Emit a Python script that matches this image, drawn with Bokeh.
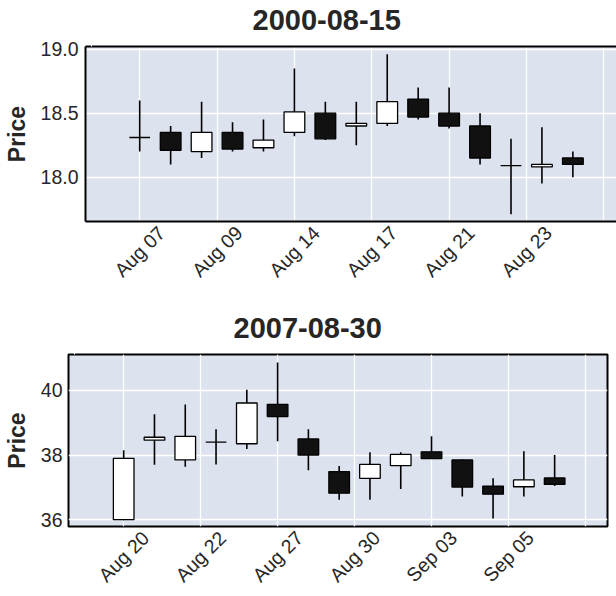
from bokeh.plotting import figure
from bokeh.models import FixedTicker, LinearAxis, Range1d, ColumnDataSource
from bokeh.embed import file_html
from bokeh.resources import INLINE

# ---------------- data: 2000-08-15 window ----------------
top_title = "2000-08-15"
top_dates = ["2000-08-07", "2000-08-08", "2000-08-09", "2000-08-10", "2000-08-11",
             "2000-08-14", "2000-08-15", "2000-08-16", "2000-08-17", "2000-08-18",
             "2000-08-21", "2000-08-22", "2000-08-23", "2000-08-24", "2000-08-25"]
top_open  = [18.31, 18.35, 18.20, 18.35, 18.23, 18.35, 18.50, 18.40, 18.42, 18.61, 18.50, 18.40, 18.09, 18.08, 18.15]
top_high  = [18.60, 18.40, 18.59, 18.43, 18.45, 18.85, 18.59, 18.59, 18.96, 18.70, 18.70, 18.50, 18.30, 18.39, 18.20]
top_low   = [18.20, 18.10, 18.15, 18.20, 18.20, 18.32, 18.29, 18.25, 18.40, 18.45, 18.38, 18.10, 17.71, 17.95, 18.00]
top_close = [18.31, 18.21, 18.35, 18.22, 18.29, 18.51, 18.30, 18.42, 18.59, 18.47, 18.40, 18.15, 18.09, 18.10, 18.10]
top_grid_ticks = [0, 2.5, 5, 7.5, 10, 12.5, 15]
top_tick_pos = [0, 2.5, 5, 7.5, 10, 12.5]
top_tick_labels = ["Aug 07", "Aug 09", "Aug 14", "Aug 17", "Aug 21", "Aug 23"]
top_yticks = [18.0, 18.5, 19.0]
top_ylabels = ["18.0", "18.5", "19.0"]

# ---------------- data: 2007-08-30 window ----------------
bot_title = "2007-08-30"
bot_dates = ["2007-08-20", "2007-08-21", "2007-08-22", "2007-08-23", "2007-08-24",
             "2007-08-27", "2007-08-28", "2007-08-29", "2007-08-30", "2007-08-31",
             "2007-09-03", "2007-09-04", "2007-09-05", "2007-09-06", "2007-09-07"]
bot_open  = [36.00, 38.46, 37.85, 38.40, 38.35, 39.57, 38.50, 37.49, 37.28, 37.67, 38.10, 37.85, 37.04, 37.02, 37.29]
bot_high  = [38.15, 39.26, 39.56, 38.80, 40.02, 40.86, 38.80, 37.66, 38.09, 38.09, 38.58, 37.87, 37.28, 38.12, 38.00]
bot_low   = [35.98, 37.70, 37.64, 37.71, 38.19, 38.43, 37.53, 36.62, 36.62, 36.95, 37.89, 36.72, 36.04, 36.72, 37.04]
bot_close = [37.90, 38.55, 38.58, 38.40, 39.61, 39.19, 38.00, 36.82, 37.71, 38.02, 37.89, 37.01, 36.79, 37.23, 37.09]
bot_grid_ticks = [0, 2.5, 5, 7.5, 10, 12.5, 15]
bot_tick_pos = [0, 2.5, 5, 7.5, 10, 12.5]
bot_tick_labels = ["Aug 20", "Aug 22", "Aug 27", "Aug 30", "Sep 03", "Sep 05"]
bot_yticks = [36, 38, 40]
bot_ylabels = ["36", "38", "40"]

FONT = "Liberation Sans"
TXT = "#262626"
BG = "#DCE3EF"


def panel(title, dates, o, h, l, c, grid_ticks, tick_pos, tick_labels, yticks, ylabels,
          xr, yr, shift, height, mb_top, mb_bottom, mb_left, mb_right, title_offset,
          ylab_standoff, full_outline):
    p = figure(width=616, height=height, x_range=Range1d(*xr), y_range=Range1d(*yr),
               output_backend="svg", toolbar_location=None, title=title,
               min_border_top=mb_top, min_border_bottom=mb_bottom,
               min_border_left=mb_left, min_border_right=mb_right)
    p.background_fill_color = BG
    p.border_fill_color = "white"
    p.title.text_font = FONT
    p.title.text_font_size = "29px"
    p.title.text_font_style = "bold"
    p.title.text_color = TXT
    p.title.align = "left"
    p.title.offset = title_offset
    p.title.vertical_align = "bottom"
    p.title.standoff = -11

    idx = list(range(len(dates)))
    src = ColumnDataSource(dict(
        x=idx, date=dates, open=o, high=h, low=l, close=c,
        top=[max(a, b) for a, b in zip(o, c)],
        bottom=[min(a, b) for a, b in zip(o, c)],
        fill=["white" if b >= a else "#111111" for a, b in zip(o, c)],
    ))
    p.segment(x0="x", y0="low", x1="x", y1="high", source=src, line_color="black", line_width=1.6)
    p.vbar(x="x", width=0.67, top="top", bottom="bottom", source=src,
           fill_color="fill", line_color="black", line_width=1.3)

    # grid
    p.xgrid.ticker = FixedTicker(ticks=grid_ticks)
    p.ygrid.ticker = FixedTicker(ticks=yticks)
    for g in (p.xgrid, p.ygrid):
        g.grid_line_color = "white"
        g.grid_line_width = 1.3

    # x axis: rotated labels centred under their tick (matplotlib style)
    xa = p.xaxis[0]
    shifted = [t + shift for t in tick_pos]
    xa.ticker = FixedTicker(ticks=shifted)
    xa.major_label_overrides = {s: lab for s, lab in zip(shifted, tick_labels)}
    xa.major_label_orientation = 0.785398
    xa.major_label_text_font = FONT
    xa.major_label_text_font_size = "19.5px"
    xa.major_label_text_color = TXT
    xa.major_label_standoff = 8
    xa.major_tick_line_color = None
    xa.minor_tick_line_color = None
    xa.major_tick_out = 0
    xa.major_tick_in = 0

    ya = p.yaxis[0]
    ya.ticker = FixedTicker(ticks=yticks)
    ya.major_label_overrides = {v: lab for v, lab in zip(yticks, ylabels)}
    ya.major_label_text_font = FONT
    ya.major_label_text_font_size = "19.5px"
    ya.major_label_text_color = TXT
    ya.major_label_standoff = ylab_standoff
    ya.major_tick_line_color = None
    ya.minor_tick_line_color = None
    ya.major_tick_out = 0
    ya.major_tick_in = 0
    ya.axis_label = "Price"
    ya.axis_label_text_font = FONT
    ya.axis_label_text_font_size = "23px"
    ya.axis_label_text_font_style = "bold"
    ya.axis_label_text_color = TXT
    ya.axis_label_standoff = 8

    # top axis: draws the top border (where needed) and keeps a gap under the title
    # (its single tick is white on the white border, i.e. invisible)
    gap_tick = xr[0] + 0.2
    ta = LinearAxis(ticker=FixedTicker(ticks=[gap_tick]), axis_line_width=2,
                    major_tick_line_color="white", major_tick_line_width=1,
                    minor_tick_line_color=None,
                    major_label_overrides={gap_tick: ""},
                    major_label_text_font_size="0px", major_label_standoff=0,
                    major_tick_out=22, major_tick_in=0)
    if full_outline:
        p.outline_line_color = "black"
        p.outline_line_width = 2
        p.outline_line_alpha = 1
        xa.axis_line_color = None
        ya.axis_line_color = None
        ta.axis_line_color = None
    else:
        # frame continues past the right edge of the picture: no right border
        p.outline_line_color = None
        xa.axis_line_color = "black"
        xa.axis_line_width = 2
        ya.axis_line_color = "black"
        ya.axis_line_width = 2
        ta.axis_line_color = "black"
    p.add_layout(ta, "above")
    return p


p1 = panel(top_title, top_dates, top_open, top_high, top_low, top_close,
           top_grid_ticks, top_tick_pos, top_tick_labels, top_yticks, top_ylabels,
           (-1.752, 15.41), (17.654, 19.021), 0.706,
           height=308, mb_top=46, mb_bottom=87, mb_left=84, mb_right=0,
           title_offset=167, ylab_standoff=7, full_outline=False)
p2 = panel(bot_title, bot_dates, bot_open, bot_high, bot_low, bot_close,
           bot_grid_ticks, bot_tick_pos, bot_tick_labels, bot_yticks, bot_ylabels,
           (-1.793, 15.717), (35.79, 41.11), 0.710,
           height=288, mb_top=46, mb_bottom=67, mb_left=67, mb_right=9,
           title_offset=165, ylab_standoff=6, full_outline=True)

open("out.html", "w").write(file_html([p1, p2], INLINE))
